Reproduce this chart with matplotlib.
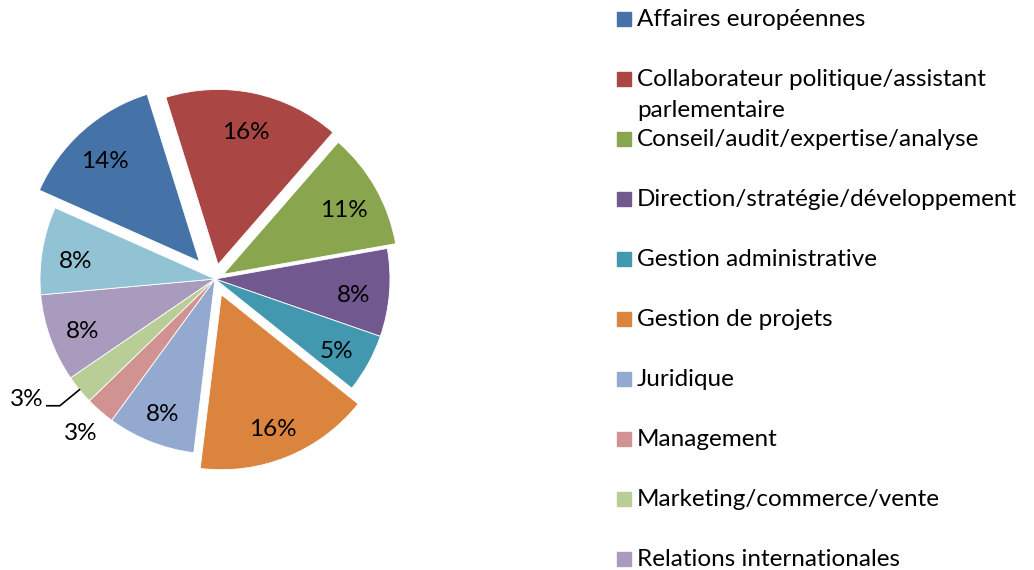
import numpy as np
import matplotlib
matplotlib.use("Agg")
import matplotlib.pyplot as plt
from matplotlib.patches import Rectangle

plt.rcParams['font.family'] = ['Lato', 'DejaVu Sans']

# ---- data (counts, n = 37) ----
categories = [
    "Affaires européennes",
    "Collaborateur politique/assistant\nparlementaire",
    "Conseil/audit/expertise/analyse",
    "Direction/stratégie/développement",
    "Gestion administrative",
    "Gestion de projets",
    "Juridique",
    "Management",
    "Marketing/commerce/vente",
    "Relations internationales",
    "Ressources humaines",
]
counts = [5, 6, 4, 3, 2, 6, 3, 1, 1, 3, 3]
colors = ["#4572A7", "#AA4643", "#89A54E", "#71588F", "#4198AF", "#DB843D",
          "#93A9CF", "#D19392", "#B9CD96", "#A99BBD", "#92C3D4"]
explode = [0.135, 0.085, 0.055, 0, 0, 0.097, 0, 0, 0, 0, 0]
n_legend = 10   # the last entry is cut off in the original legend

W, H = 1034, 570
fig = plt.figure(figsize=(W / 100, H / 100), dpi=100)
ax = fig.add_axes([0, 0, 1, 1])

R = 175
cx, cy = 215, H - 279
total = sum(counts)
FS = 17.5

# matplotlib applies explode in data units, so scale by the radius
wedges, texts, autotexts = ax.pie(
    counts, colors=colors, explode=[e * R for e in explode],
    startangle=156, counterclock=False,
    radius=R, center=(cx, cy), frame=True,
    autopct=lambda p: f"{p:.0f}%" if p > 4 else "",
    pctdistance=0.8,
    wedgeprops=dict(edgecolor='white', linewidth=0.6),
    textprops=dict(fontsize=FS, color='black'))
for t in autotexts:
    x, y = t.get_position()
    t.set_position((x - 1, y - 5))
ax.set_xlim(0, W)
ax.set_ylim(0, H)
ax.set_aspect('equal')
ax.axis('off')

# small slices: labels outside
def mid(w):
    return np.deg2rad((w.theta1 + w.theta2) / 2)

# Management
a = mid(wedges[7])
ax.text(cx + 1.17 * R * np.cos(a), cy + 1.17 * R * np.sin(a),
        f"{counts[7] / total * 100:.0f}%", fontsize=FS, ha='center', va='center')

# Marketing, with leader line
a = mid(wedges[8])
x0, y0 = cx + R * np.cos(a), cy + R * np.sin(a)
x1, y1 = cx + 1.145 * R * np.cos(a), cy + 1.145 * R * np.sin(a)
x2 = x1 - 13
ax.plot([x0, x1, x2], [y0, y1, y1], color='black', lw=1.2)
ax.text(x2 - 3, y1 + 6, f"{counts[8] / total * 100:.0f}%", fontsize=FS,
        ha='right', va='center')

# ---- legend ----
lx, ly, step = 617, H - 19, 60
for i in range(n_legend):
    y = ly - i * step
    ax.add_patch(Rectangle((lx, y - 7), 14, 14, color=colors[i]))
    ax.text(lx + 20, y + 10, categories[i], fontsize=FS, ha='left', va='top',
            linespacing=1.6)

fig.savefig("out.png", dpi=100)
